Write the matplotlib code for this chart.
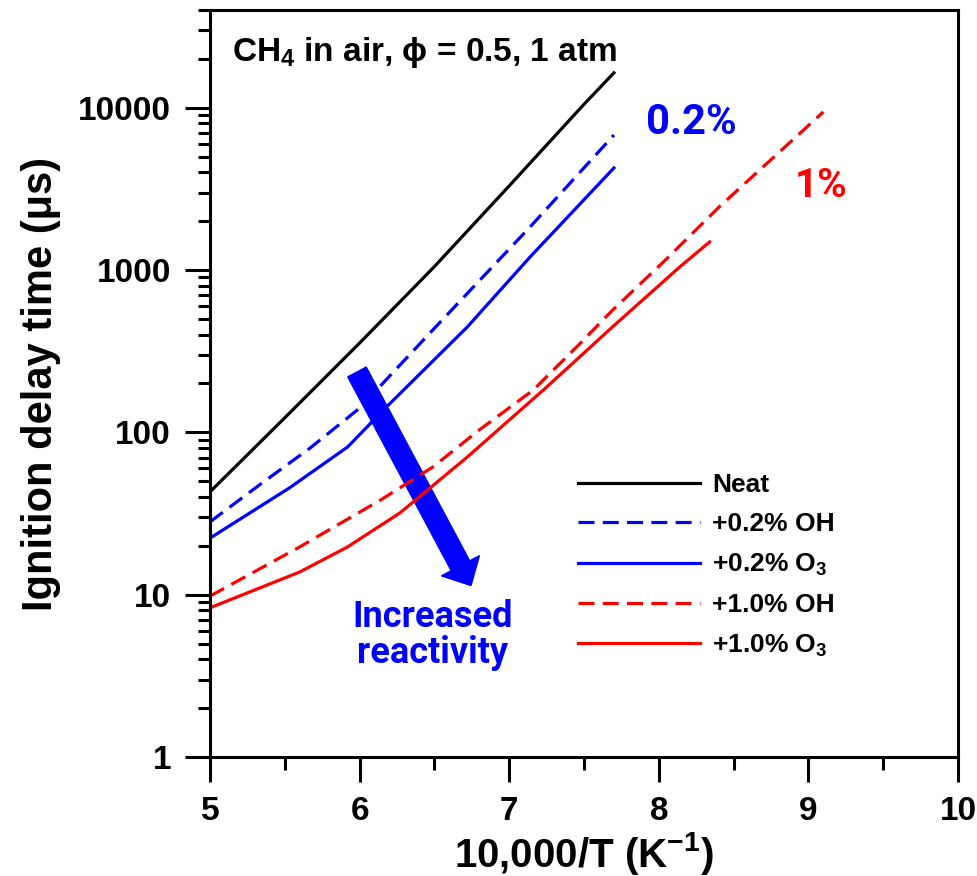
import matplotlib
matplotlib.use('Agg')
import matplotlib.pyplot as plt
from matplotlib.ticker import MultipleLocator, LogLocator, FuncFormatter, NullFormatter
from matplotlib.patches import FancyArrow

plt.rcParams['font.family'] = ['Liberation Sans', 'DejaVu Sans']
plt.rcParams['font.weight'] = 'bold'
plt.rcParams['mathtext.fontset'] = 'custom'
plt.rcParams['mathtext.rm'] = 'Liberation Sans:bold'
plt.rcParams['mathtext.bf'] = 'Liberation Sans:bold'
plt.rcParams['mathtext.it'] = 'Liberation Sans:italic:bold'

# ignition delay (us) vs 10000/T
neat_x = [5.0, 5.5, 6.0, 6.5, 7.0, 7.5, 7.7]
neat_y = [43, 123, 355, 1050, 3300, 10500, 16400]

oh02_x = [5.0, 5.33, 5.67, 6.0, 6.49, 7.14, 7.7]
oh02_y = [28.1, 47.4, 80.2, 141, 428, 1845, 6790]

o302_x = [5.0, 5.53, 5.92, 6.18, 6.72, 7.14, 7.7]
o302_y = [22.3, 45.4, 81.3, 143.5, 446, 1205, 4256]

oh10_x = [5.0, 5.6, 6.14, 6.49, 6.8, 7.16, 7.47, 7.69, 8.03, 8.41, 9.1]
oh10_y = [9.8, 19.7, 38.3, 61.2, 103.5, 182, 350, 565, 1120, 2480, 9420]

o310_x = [5.0, 5.6, 5.92, 6.27, 6.72, 7.25, 7.69, 8.14, 8.34]
o310_y = [8.3, 13.8, 19.7, 31.9, 70.5, 190, 446, 1045, 1490]

labels = ['Neat', '+0.2% OH', '+0.2% O$_3$', '+1.0% OH', '+1.0% O$_3$']
y_ticks = [1, 10, 100, 1000, 10000]

BLUE = '#0000FF'
RED = '#FF0000'
lw = 2.3
dash = (5.0, 2.6)

fig = plt.figure(figsize=(9.77, 8.76), dpi=100)
ax = fig.add_axes([210 / 977, 119 / 876, 748 / 977, 747 / 876])

ax.plot(neat_x, neat_y, color='black', lw=lw, label=labels[0])
ax.plot(oh02_x, oh02_y, color=BLUE, lw=lw, dashes=dash, label=labels[1])
ax.plot(o302_x, o302_y, color=BLUE, lw=lw, label=labels[2])
ax.plot(oh10_x, oh10_y, color=RED, lw=lw, dashes=dash, label=labels[3])
ax.plot(o310_x, o310_y, color=RED, lw=lw, label=labels[4])

ax.set_yscale('log')
ax.set_xlim(5, 10)
ax.set_ylim(1, 4e4)

ax.xaxis.set_major_locator(MultipleLocator(1))
ax.xaxis.set_minor_locator(MultipleLocator(0.5))
ax.set_yticks(y_ticks)
ax.yaxis.set_major_formatter(FuncFormatter(lambda v, p: '%d' % v))
ax.yaxis.set_minor_locator(LogLocator(base=10, subs=range(2, 10)))
ax.yaxis.set_minor_formatter(NullFormatter())

ax.tick_params(which='major', direction='out', length=18, width=2.2,
               labelsize=24, pad=10)
ax.tick_params(which='minor', direction='out', length=9, width=2.2)
for s in ax.spines.values():
    s.set_linewidth(2.2)

ax.set_xlabel('10,000/T (K$^{-1}$)', fontsize=29, fontweight='bold', labelpad=2)
ax.set_ylabel('Ignition delay time (\u03bcs)', fontsize=30, fontweight='bold', labelpad=12)

ax.text(0.029, 0.9315, r'CH$_4$ in air, $\mathrm{\phi}$ = 0.5, 1 atm', transform=ax.transAxes,
        fontsize=24, fontweight='bold', va='baseline', ha='left')

ax.text(0.643, 0.850, '0.2%', transform=ax.transAxes, color=BLUE, fontsize=30,
        fontweight='bold', family='Roboto', ha='center', va='center')
ax.text(0.817, 0.765, '1%', transform=ax.transAxes, color=RED, fontsize=29,
        fontweight='bold', family='Roboto', ha='center', va='center')
ax.text(0.298, 0.1638, 'Increased\nreactivity', transform=ax.transAxes, color=BLUE,
        fontsize=26, fontweight='bold', family='Roboto', ha='center', va='center',
        linespacing=1.0)

# big arrow, drawn in axes fraction
x0, y0 = (357 - 210) / 748, (757 - 373) / 745
x1, y1 = (471 - 210) / 748, (757 - 586) / 745
ax.add_patch(FancyArrow(x0, y0, x1 - x0, y1 - y0, width=0.028, head_width=0.0575,
                        head_length=0.03, length_includes_head=True,
                        color=BLUE, transform=ax.transAxes))

leg = ax.legend(loc='upper left', bbox_to_anchor=(0.492, 0.380), frameon=False,
                fontsize=19, handlelength=4.62, handletextpad=0.45,
                labelspacing=0.58, borderpad=0, borderaxespad=0)
for t in leg.get_texts():
    t.set_fontweight('bold')

fig.savefig('out.png', dpi=100)
